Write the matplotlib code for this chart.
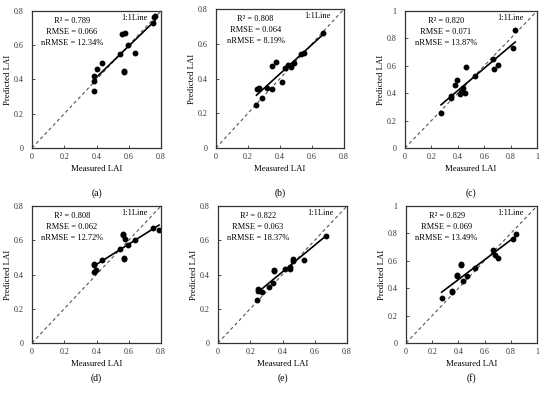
import matplotlib
matplotlib.use("Agg")
import matplotlib.pyplot as plt
import numpy as np

plt.rcParams['font.family'] = ['Liberation Serif', 'DejaVu Serif']

# measured / predicted LAI
meas_a = [0.385, 0.387, 0.387, 0.40, 0.436, 0.545, 0.56, 0.576, 0.57, 0.57, 0.597, 0.64, 0.753, 0.755, 0.763]
pred_a = [0.332, 0.39, 0.423, 0.46, 0.499, 0.551, 0.668, 0.674, 0.45, 0.443, 0.60, 0.557, 0.73, 0.765, 0.773]

meas_b = [0.253, 0.255, 0.267, 0.286, 0.321, 0.347, 0.351, 0.374, 0.413, 0.434, 0.453, 0.47, 0.49, 0.53, 0.551, 0.668]
pred_b = [0.247, 0.337, 0.347, 0.289, 0.347, 0.337, 0.474, 0.493, 0.38, 0.459, 0.478, 0.468, 0.487, 0.541, 0.545, 0.661]

meas_c = [0.273, 0.349, 0.352, 0.375, 0.395, 0.415, 0.428, 0.438, 0.456, 0.463, 0.529, 0.668, 0.678, 0.701, 0.82, 0.835]
pred_c = [0.258, 0.367, 0.382, 0.462, 0.496, 0.392, 0.409, 0.44, 0.399, 0.591, 0.528, 0.652, 0.577, 0.608, 0.727, 0.861]

meas_d = [0.387, 0.395, 0.387, 0.387, 0.436, 0.545, 0.562, 0.562, 0.576, 0.57, 0.57, 0.597, 0.64, 0.753, 0.788]
pred_d = [0.417, 0.427, 0.464, 0.458, 0.482, 0.548, 0.639, 0.629, 0.61, 0.497, 0.489, 0.571, 0.60, 0.67, 0.658]

meas_e = [0.244, 0.248, 0.248, 0.273, 0.317, 0.34, 0.348, 0.348, 0.415, 0.446, 0.446, 0.467, 0.467, 0.531, 0.667]
pred_e = [0.252, 0.316, 0.306, 0.298, 0.326, 0.349, 0.428, 0.419, 0.434, 0.444, 0.432, 0.488, 0.48, 0.486, 0.624]

meas_f = [0.272, 0.351, 0.351, 0.392, 0.392, 0.422, 0.422, 0.435, 0.466, 0.529, 0.667, 0.677, 0.70, 0.819, 0.837]
pred_f = [0.326, 0.37, 0.38, 0.487, 0.494, 0.572, 0.579, 0.453, 0.487, 0.547, 0.679, 0.645, 0.62, 0.762, 0.796]

stats_text = [
    ("0.789", "0.066", "12.34%"),
    ("0.808", "0.064", "8.19%"),
    ("0.820", "0.071", "13.87%"),
    ("0.808", "0.062", "12.72%"),
    ("0.822", "0.063", "18.37%"),
    ("0.829", "0.069", "13.49%"),
]
panel_labels = ["(a)", "(b)", "(c)", "(d)", "(e)", "(f)"]
axis_max = [0.8, 0.8, 1.0, 0.8, 0.8, 1.0]

measured = [meas_a, meas_b, meas_c, meas_d, meas_e, meas_f]
predicted = [pred_a, pred_b, pred_c, pred_d, pred_e, pred_f]

# axes boxes in pixels: left, right, top, bottom
boxes = [
    (32, 161, 11, 148), (216, 344, 9, 148), (405, 537, 11, 148),
    (32, 161, 206, 343), (218, 347, 206, 343), (406, 537, 206, 343),
]
W, H = 550, 395


def fmt(v):
    if abs(v) < 1e-9:
        return "0"
    if abs(v - 1) < 1e-9:
        return "1"
    return "%.1f" % v


fig = plt.figure(figsize=(5.5, 3.95), dpi=100)
for i in range(6):
    l, r, t, b = boxes[i]
    ax = fig.add_axes([l / W, 1 - b / H, (r - l) / W, (b - t) / H])
    top = axis_max[i]
    x = np.array(measured[i])
    y = np.array(predicted[i])

    ax.plot([0, top], [0, top], ls=(0, (3, 2.5)), color="#555555", lw=0.8)
    k, c0 = np.polyfit(x, y, 1)
    xx = np.array([x.min(), x.max()])
    ax.plot(xx, k * xx + c0, color="black", lw=1.2)
    ax.plot(x, y, "o", color="black", ms=3.2)

    ax.set_xlim(0, top)
    ax.set_ylim(0, top)
    ticks = np.arange(0, top + 0.01, 0.2)
    ax.set_xticks(ticks)
    ax.set_yticks(ticks)
    ax.set_xticklabels([fmt(v) for v in ticks])
    ax.set_yticklabels([fmt(v) for v in ticks])
    ax.tick_params(direction="in", length=2.5, width=0.6, labelsize=5.8, colors="#333333")
    ax.tick_params(axis="y", pad=6)
    ax.tick_params(axis="x", pad=3.5)
    for sp in ax.spines.values():
        sp.set_linewidth(0.9)
        sp.set_color("#333333")
    ax.set_xlabel("Measured LAI", fontsize=6.3, labelpad=3)
    ax.set_ylabel("Predicted LAI", fontsize=6.3, labelpad=1.5)

    r2, rmse, nrmse = stats_text[i]
    ax.text(0.31, 0.93, "R² = " + r2, transform=ax.transAxes, ha="center", va="center", fontsize=6)
    ax.text(0.31, 0.85, "RMSE = " + rmse, transform=ax.transAxes, ha="center", va="center", fontsize=6)
    ax.text(0.31, 0.77, "nRMSE = " + nrmse, transform=ax.transAxes, ha="center", va="center", fontsize=6)
    ax.text(0.795, 0.95, "1:1Line", transform=ax.transAxes, ha="center", va="center", fontsize=6)

    fig.text(((l + r) / 2) / W, 1 - (193 if i < 3 else 378) / H, panel_labels[i],
             ha="center", va="center", fontsize=7)

fig.savefig("out.png", dpi=100)
